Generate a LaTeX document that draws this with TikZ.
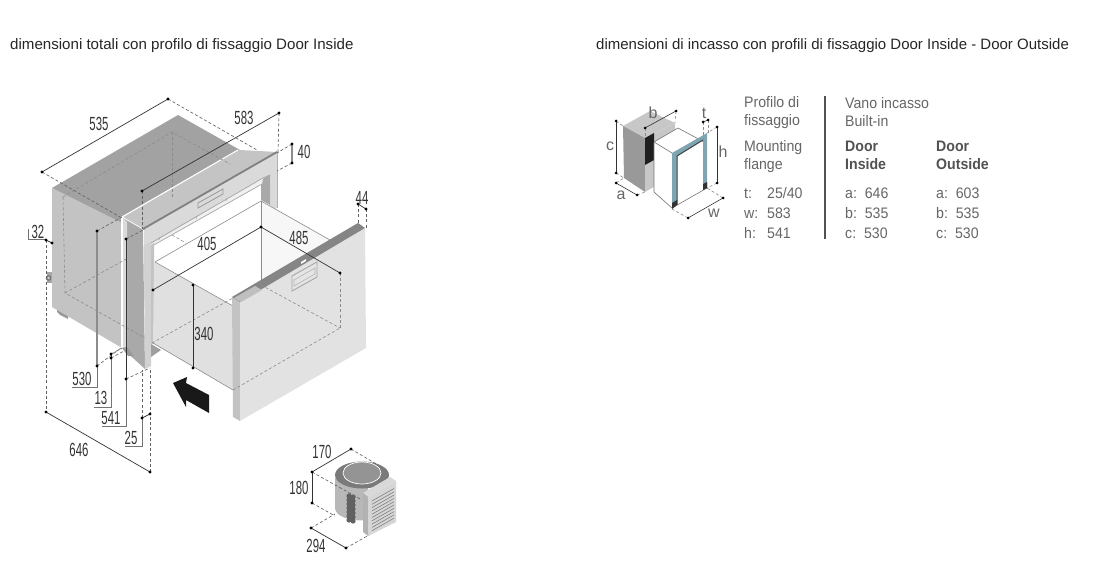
\documentclass[tikz,border=0pt]{standalone}
\usepackage{fontspec}
\setmainfont{Liberation Sans}
\newfontfamily\labf[FakeStretch=0.6]{Liberation Sans}
\newfontfamily\tabf[FakeStretch=0.93]{Liberation Sans}
\begin{document}
\begin{tikzpicture}[x=1pt,y=-1pt,
  title/.style={anchor=base west,inner sep=0pt,font=\fontsize{15.1}{16}\selectfont,text=black!85},
  dimlab/.style={inner sep=0pt,font=\labf\fontsize{19}{20}\selectfont,text=black!80},
  tab/.style={anchor=base west,yshift=-5.3pt,inner sep=0pt,font=\tabf\fontsize{15.2}{16}\selectfont,text=black!60},
  tabb/.style={anchor=base west,yshift=-5.3pt,inner sep=0pt,font=\tabf\bfseries\fontsize{15.2}{16}\selectfont,text=black!68},
  small/.style={inner sep=0pt,font=\fontsize{16}{17}\selectfont,text=black!60},
  dim/.style={draw=black!80,line width=.7pt},
  dimg/.style={draw=black!45,line width=1.1pt},
  ext/.style={draw=black!62,line width=.65pt,dash pattern=on 3pt off 2.2pt},
  hid/.style={draw=black!45,line width=.6pt,dash pattern=on 3pt off 2.2pt},
  lead/.style={draw=black!55,line width=.7pt}]
\useasboundingbox (0,0) rectangle (1108,561);
\definecolor{sideg}{HTML}{C3C3C3}
\definecolor{topg}{HTML}{A2A2A2}
\definecolor{stripg}{HTML}{A9A9A9}
\definecolor{faceg}{HTML}{DADADA}
\definecolor{doorg}{HTML}{E2E2E2}
\definecolor{blueframe}{HTML}{7FA5B3}
% titles
\node[title] (t1) at (10,49.5) {dimensioni totali con profilo di fissaggio Door Inside};
\node[title,font=\fontsize{15}{16}\selectfont] (t2) at (596,49.5) {dimensioni di incasso con profili di fissaggio Door Inside - Door Outside};
% ---- main cabinet
\fill[black!40] (57,309) -- (68,316) -- (68,319) -- (60,315) -- (57,312) -- cycle;
\fill[sideg] (52,188) -- (122,223) -- (122,348) -- (52,307) -- cycle;
\fill[topg] (52,188) -- (178,115) -- (240,150) -- (122,217) -- (122,223) -- cycle;
\fill[black!35] (47,272) rectangle (52,283);
\fill[black!55] (48.5,278) circle (2.8pt);
\fill[black!20] (48.5,278) circle (1.5pt);
% flange side
\fill[stripg] (122,217) -- (143,229) -- (145,369) -- (122,348) -- cycle;
\fill[faceg] (122,217) -- (127,222) -- (127,352) -- (122,348) -- cycle;
\draw[white,line width=1.2pt] (122,217) -- (122,348);
\fill[black!40] (122,348) -- (127,347) -- (134,356) -- (128,356) -- cycle;
% flange bevel
\fill[black!23] (122,217) -- (240,150) -- (277,152) -- (143,229) -- cycle;
\draw[white,line width=1.1pt] (122,217) -- (238,150);
\draw[white,line width=.8pt] (122,217) -- (143,229);
% flange front
\fill[faceg] (144,229) -- (277,152) -- (277,208) -- (261,215) -- (151,300) -- (144,300) -- cycle;
\fill[white] (152,246) -- (263,181) -- (270,176) -- (270,220) -- (152,300) -- cycle;
\fill[stripg] (261,180) -- (270,175) -- (270,205) -- (261,200) -- cycle;
\draw[black!50,line width=1.8pt] (143,229) -- (277,152);
\fill[black!6] (152,246) -- (262,184) -- (263,178) -- (146,247) -- cycle;
\draw[black!35,line width=.7pt] (152,246) -- (262,184);
\draw[black!35,line width=.7pt] (144,247) -- (263,178) -- (270,175);
\foreach \xa/\ya in {159/240,196/219,226/201}{\draw[black!35,line width=.6pt] (\xa,\ya) -- +(1,-3);}
\draw[black!40,line width=.8pt,fill=faceg] (198,203) -- (223,189) -- (223,194) -- (198,208) -- cycle;
% post
\fill[black!18] (144,245) -- (151,243) -- (151,366) -- (145,369) -- cycle;
\fill[sideg] (151,245) -- (154,243) -- (154,344) -- (151,344) -- cycle;
\fill[black!38] (151,344) -- (161,350) -- (151,357) -- cycle;
\draw[black!30,line width=.5pt] (277,152) -- (277,208);
% ---- drawer
\fill[white] (155,262) -- (261,201) -- (330,240) -- (233,297) -- cycle;
\fill[black!3] (261,201) -- (330,240) -- (340,280) -- (261,285) -- cycle;
\fill[white] (155,262) -- (261,201) -- (261,285) -- (233,298) -- cycle;
\fill[black!12] (154,262) -- (233,306) -- (233,390) -- (153,343) -- cycle;
\draw[black!45,line width=.6pt] (155,262) -- (261,201) -- (330,240);
\draw[black!45,line width=.6pt] (155,262) -- (233,306);
\draw[black!45,line width=.6pt] (261,201) -- (261,285);
\draw[black!45,line width=.6pt] (153,343) -- (233,390);
% ---- door
\fill[sideg] (232,297) -- (240,302) -- (240,421) -- (233,417) -- cycle;
\fill[doorg] (240,302) -- (365,228) -- (366,348) -- (240,421) -- cycle;
\fill[black!48] (232,297) -- (358,223) -- (365,228) -- (240,302) -- cycle;
\fill[black!25] (234,298) -- (241,302) -- (262,290) -- (255,286) -- cycle;
\draw[black!35,line width=.9pt,fill=black!10] (292,276) -- (317,262) -- (317,277) -- (292,291) -- cycle;
\draw[black!30,line width=.6pt] (294,280) -- (315,268) -- (315,274) -- (294,286) -- cycle;
\fill[white] (301,262) -- (306,259) -- (306,261) -- (301,264) -- cycle;
% ---- arrow
\fill[black!90] (173,383) -- (187,377) -- (186,383) -- (209,395) -- (209,413) -- (186,400) -- (186,407) -- cycle;
% hidden lines
\draw[hid] (63,197) -- (172,132) -- (230,164);
\draw[hid] (172,132) -- (172,197);
\draw[hid] (63,197) -- (65,293) -- (145,338);
\draw[hid] (65,293) -- (128,258);
\draw[hid] (172,235) -- (186,243);
\draw[hid] (152,343) -- (233,298);
\draw[hid] (233,390) -- (340,328);
\draw[hid] (261,285) -- (340,328);
% ---- dimension points
\coordinate (d535a) at (42,172); \coordinate (d535b) at (168,99);
\coordinate (e535a) at (120,217); \coordinate (e535b) at (257,150);
\coordinate (d583a) at (142,191); \coordinate (d583b) at (279,113);
\coordinate (e583a) at (142,229); \coordinate (e583b) at (278,152);
\coordinate (d40a) at (292,144); \coordinate (d40b) at (292,163);
\coordinate (e40a) at (277,153); \coordinate (e40b) at (277,171);
\coordinate (d44a) at (358,204); \coordinate (d44b) at (366,209);
\coordinate (e44a) at (358,224); \coordinate (e44b) at (366,228);
\coordinate (d405a) at (153,290); \coordinate (d405b) at (261,227); \coordinate (d485b) at (340,273);
\coordinate (e485) at (340,328);
\coordinate (d340a) at (193,285); \coordinate (d340b) at (193,368);
\coordinate (d32a) at (46,240); \coordinate (d32b) at (52,243);
\coordinate (d646a) at (46,412); \coordinate (d646b) at (150,472);
\coordinate (d530a) at (97,231); \coordinate (d530b) at (97,366);
\coordinate (d13a) at (111,354); \coordinate (d13b) at (111,358);
\coordinate (d541a) at (126,239); \coordinate (d541b) at (126,379);
\coordinate (d25a) at (142,418); \coordinate (d25b) at (150,414);
\coordinate (top530) at (122,217); \coordinate (bot530) at (121,348);
\coordinate (fla) at (145,229); \coordinate (flb) at (150,368); \coordinate (flc) at (142,370);
% extensions
\draw[ext] (d535a) -- (e535a);
\draw[ext] (d535b) -- (e535b);
\draw[ext] (d583a) -- (e583a);
\draw[ext] (d583b) -- (e583b);
\draw[ext] (d40a) -- (e40a);
\draw[ext] (d40b) -- (e40b);
\draw[ext] (d44a) -- (e44a);
\draw[ext] (d44b) -- (e44b);
\draw[hid] (d485b) -- (e485);
\draw[ext] (d32a) -- (d646a);
\draw[ext] (d646b) -- (flb);
\draw[ext] (d25a) -- (flc);
\draw[ext] (d530a) -- (top530);
\draw[ext] (d530b) -- (bot530);
\draw[ext] (d13a) -- (122,348);
\draw[ext] (d13b) -- (124,351);
\draw[ext] (d541a) -- (fla);
\draw[ext] (d541b) -- (flb);
% dimension lines
\draw[dim] (d535a) -- (d535b);
\draw[dim] (d583a) -- (d583b);
\draw[dimg] (d40a) -- (d40b);
\draw[dim] (d44a) -- (d44b);
\draw[dim] (d405a) -- (d405b) -- (d485b);
\draw[dim] (d340a) -- (d340b);
\draw[dim] (d32a) -- (d32b);
\draw[dim] (d646a) -- (d646b);
\draw[dimg] (d530a) -- (d530b);
\draw[dim] (d13a) -- (d13b);
\draw[dim] (d541a) -- (d541b);
\draw[dim] (d25a) -- (d25b);
% leaders
\draw[lead] (46,239) -- (28,239) -- (28,229);
\draw[lead] (d530b) -- (97,387) -- (72,387);
\draw[lead] (d13b) -- (111,407) -- (94,407);
\draw[lead] (d541b) -- (126,426) -- (102,426);
\draw[lead] (d25a) -- (142,446) -- (125,446);
\foreach \p in {d535a,d535b,d583a,d583b,d40a,d40b,d44a,d44b,d405a,d405b,d485b,d340a,d340b,d32a,d32b,d646a,d646b,d530a,d530b,d13a,d13b,d541a,d541b,d25a,d25b}{\fill (\p) circle (1.7pt);}
% labels
\node[dimlab] (l535) at (99,124) {535};
\node[dimlab] (l583) at (244,118) {583};
\node[dimlab] (l40) at (304,152) {40};
\node[dimlab] (l44) at (362,198) {44};
\node[dimlab] (l405) at (207,244) {405};
\node[dimlab] (l485) at (299,238) {485};
\node[dimlab] (l340) at (204,334) {340};
\node[dimlab] (l32) at (38,232) {32};
\node[dimlab] (l530) at (82,379) {530};
\node[dimlab] (l13) at (101,398) {13};
\node[dimlab] (l541) at (111,418) {541};
\node[dimlab] (l25) at (131,438) {25};
\node[dimlab] (l646) at (79,450) {646};
% ---- compressor
\fill[black!28] (335,478) -- (335,508) .. controls (335,516) and (350,522) .. (368,520) -- (368,478) -- cycle;
\fill[black!52] (362,475) ellipse (27pt and 13.5pt);
\draw[white,line width=.7pt,fill=black!42] (362,473) ellipse (19pt and 11pt);
\foreach \yy in {496,500,...,522}{\fill[black!62] (349,\yy) circle (2.6pt); \fill[black!62] (353,\yy+1) circle (2.6pt);}
\fill[black!15] (363,493) -- (390,477) -- (396,481) -- (368,497) -- cycle;
\fill[black!30] (363,493) -- (368,497) -- (368,536) -- (363,532) -- cycle;
\fill[black!16] (368,497) -- (396,481) -- (396,522) -- (368,536) -- cycle;
\foreach \k in {0,1,...,9}{\draw[black!50,line width=.6pt] (372,{501+3.3*\k}) -- (394,{488.5+3.3*\k});}
\coordinate (c1) at (312,472); \coordinate (c2) at (351,449); \coordinate (c3) at (312,503);
\coordinate (c4) at (311,528); \coordinate (c5) at (346,548);
\draw[ext] (c2) -- (378,465);
\draw[ext] (c1) -- (362,500);
\draw[ext] (c3) -- (335,516);
\draw[ext] (c4) -- (335,514);
\draw[ext] (c5) -- (369,535);
\draw[dim] (c1) -- (c2);
\draw[dim] (c1) -- (c3);
\draw[dim] (c4) -- (c5);
\foreach \p in {c1,c2,c3,c4,c5}{\fill (\p) circle (1.7pt);}
\node[dimlab] (l170) at (322,452) {170};
\node[dimlab] (l180) at (299,488) {180};
\node[dimlab] (l294) at (316,546) {294};
% ---- small built-in diagram
\fill[black!22] (623,126) -- (650,111) -- (675,123) -- (645,138) -- cycle;
\fill[black!40] (623,126) -- (645,138) -- (645,192) -- (624,178) -- cycle;
\fill[black!22] (645,138) -- (675,123) -- (675,175) -- (645,192) -- cycle;
\fill[black!88] (645,138) -- (654,133) -- (654,160) -- (645,165) -- cycle;
\draw[black!55,line width=.6pt,fill=white] (654,142) -- (678,128) -- (704,142) -- (707,188) -- (672,208) -- (654,192) -- cycle;
\draw[black!55,line width=.6pt] (654,142) -- (672,153);
\fill[blueframe] (672,153) -- (707,133) -- (707,188) -- (703,190) -- (703,140) -- (677,156) -- (677,205) -- (672,209) -- cycle;
\draw[black!75,line width=1pt] (677,205) -- (677,156) -- (703,140);
\fill[black!80] (703,184) -- (707,182) -- (707,188) -- (703,190) -- cycle;
\fill[black!80] (672,203) -- (677,200) -- (677,205) -- (672,209) -- cycle;
\coordinate (sa1) at (616,183); \coordinate (sa2) at (637,195);
\coordinate (sc1) at (616,121); \coordinate (sc2) at (616,173);
\coordinate (sb1) at (645,128); \coordinate (sb2) at (676,111);
\coordinate (st1) at (703,122); \coordinate (st2) at (708,120);
\coordinate (sh1) at (717,127); \coordinate (sh2) at (717,183);
\coordinate (sw1) at (688,218); \coordinate (sw2) at (723,198);
\draw[hid] (sc1) -- (623,126);
\draw[hid] (sc2) -- (624,178);
\draw[hid] (sa1) -- (624,178);
\draw[hid] (sa2) -- (645,192);
\draw[hid] (sb1) -- (645,138);
\draw[hid] (sb2) -- (675,123);
\draw[hid] (st1) -- (703,139);
\draw[hid] (st2) -- (708,133);
\draw[hid] (sh1) -- (707,133);
\draw[hid] (sh2) -- (707,188);
\draw[hid] (sw1) -- (672,209);
\draw[hid] (sw2) -- (707,188);
\foreach \a/\b in {sa1/sa2,sc1/sc2,sb1/sb2,st1/st2,sh1/sh2,sw1/sw2}{\draw[dim,line width=.6pt] (\a) -- (\b);\fill (\a) circle (1.5pt);\fill (\b) circle (1.5pt);}
\node[small] (sla) at (621,195) {a};
\node[small] (slb) at (653,113) {b};
\node[small] (slc) at (610,146) {c};
\node[small] (slt) at (704,113) {t};
\node[small] (slh) at (723,152) {h};
\node[small] (slw) at (714,213) {w};
% ---- table
\draw[black!68,line width=2pt] (825,96) -- (825,239);
\node[tab] (a1) at (744,102) {Profilo di};
\node[tab] (a2) at (744,120) {fissaggio};
\node[tab] (a3) at (744,146.5) {Mounting};
\node[tab] (a4) at (744,164.5) {flange};
\node[tab] (a5) at (744,193.5) {t:};
\node[tab] (a6) at (767,193.5) {25/40};
\node[tab] (a7) at (744,213.5) {w:};
\node[tab] (a8) at (767,213.5) {583};
\node[tab] (a9) at (744,233.5) {h:};
\node[tab] (a10) at (767,233.5) {541};
\node[tab] (b1) at (845,103.5) {Vano incasso};
\node[tab] (b2) at (845,121.5) {Built-in};
\node[tabb] (b3) at (845,146.5) {Door};
\node[tabb] (b4) at (845,164.5) {Inside};
\node[tab] (b5) at (845,193.5) {a:\ \ 646};
\node[tab] (b6) at (845,213.5) {b:\ \ 535};
\node[tab] (b7) at (845,233.5) {c:\ \ 530};
\node[tabb] (c3) at (936,146.5) {Door};
\node[tabb] (c4) at (936,164.5) {Outside};
\node[tab] (c5) at (936,193.5) {a:\ \ 603};
\node[tab] (c6) at (936,213.5) {b:\ \ 535};
\node[tab] (c7) at (936,233.5) {c:\ \ 530};
\end{tikzpicture}
\end{document}
